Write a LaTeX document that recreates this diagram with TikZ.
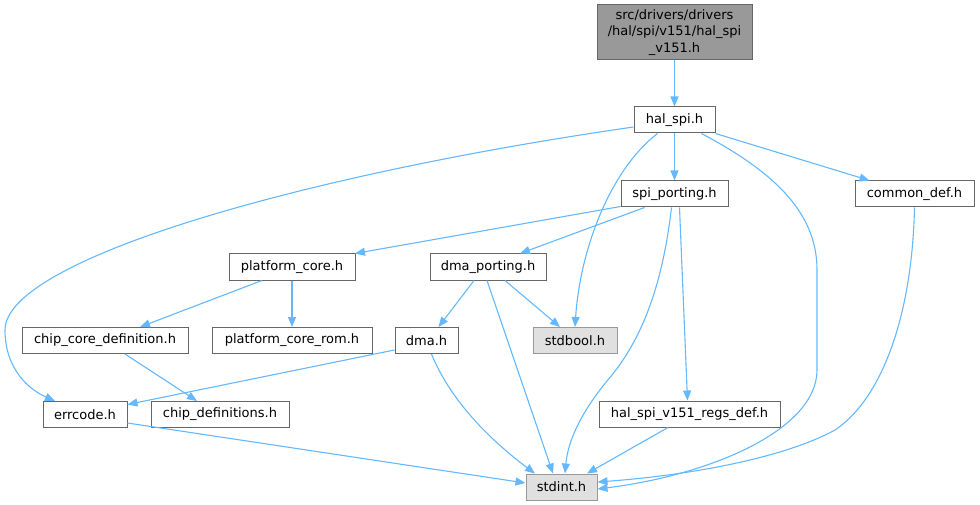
\documentclass[tikz,border=0pt]{standalone}
\usepackage{fontspec}
\setmainfont{DejaVu Sans}
\usetikzlibrary{arrows.meta}
\definecolor{edgec}{HTML}{63B8FF}
\definecolor{bord}{HTML}{666666}
\definecolor{bordl}{HTML}{999999}
\definecolor{topfill}{HTML}{999999}
\definecolor{sysfill}{HTML}{E0E0E0}
\begin{document}
\begin{tikzpicture}[x=1pt,y=-1pt,
  box/.style={draw=bord, line width=1pt, fill=white, minimum height=26pt, inner sep=0pt, font=\fontsize{13}{16.5}\selectfont},
  sysbox/.style={box, draw=bordl, fill=sysfill},
  topbox/.style={box, fill=topfill, align=center, minimum height=55pt},
  edge/.style={draw=edgec, line width=1.1pt, -{Triangle[length=10pt,width=8pt]}}
]
\useasboundingbox (0,0) rectangle (980,505);
\node[topbox, minimum width=155pt] (top) at (674.5,32.5) {src/drivers/drivers\\/hal/spi/v151/hal\_spi\\\_v151.h};
\node[box, minimum width=81pt] (hal) at (674.5,120) {hal\_spi.h};
\node[box, minimum width=107pt] (spi) at (674.5,194) {spi\_porting.h};
\node[box, minimum width=119pt] (com) at (914.5,194) {common\_def.h};
\node[box, minimum width=126pt] (plat) at (292,267) {platform\_core.h};
\node[box, minimum width=116pt] (dmap) at (488,267) {dma\_porting.h};
\node[box, minimum width=166pt] (ccd) at (105,340.5) {chip\_core\_definition.h};
\node[box, minimum width=160pt] (rom) at (292,340.5) {platform\_core\_rom.h};
\node[box, minimum width=63pt] (dma) at (426.5,340.5) {dma.h};
\node[sysbox, minimum width=84pt] (bool) at (575,340.5) {stdbool.h};
\node[box, minimum width=84pt] (err) at (85,414.5) {errcode.h};
\node[box, minimum width=138pt] (cdef) at (220,414.5) {chip\_definitions.h};
\node[box, minimum width=181pt] (regs) at (689.5,414) {hal\_spi\_v151\_regs\_def.h};
\node[sysbox, minimum width=71pt] (int) at (561.5,487) {stdint.h};

% edges
\draw[edge] (top.south) -- (hal.north);
\draw[edge] ([yshift=-7pt]hal.west) .. controls (300,175) and (5,260) .. (5,330) .. controls (5,370) and (30,390) .. ([xshift=-30pt]err.north);
\draw[edge] ([xshift=-17pt]hal.south) .. controls (610,170) and (580,250) .. (bool.north);
\draw[edge] (hal.south) -- (spi.north);
\draw[edge] ([xshift=27pt]hal.south) .. controls (770,170) and (817,210) .. (817,270) -- (817,370) .. controls (817,430) and (710,475) .. ([yshift=-2pt]int.east);
\draw[edge] (hal.south east) -- ([xshift=-45pt]com.north);
\draw[edge] (com.south) .. controls (912,320) and (880,400) .. (835,430) .. controls (780,460) and (680,476) .. ([yshift=5pt]int.east);
\draw[edge] ([yshift=1pt]spi.south west) -- ([xshift=63pt]plat.north);
\draw[edge] ([xshift=-30pt]spi.south) -- ([xshift=32pt]dmap.north);
\draw[edge] ([xshift=-3pt]spi.south) .. controls (662,290) and (640,340) .. (612,375) .. controls (582,410) and (568,440) .. ([xshift=3.5pt]int.north);
\draw[edge] ([xshift=5pt]spi.south) -- ([xshift=-2pt]regs.north);
\draw[edge] ([xshift=-30pt]plat.south) -- ([xshift=35pt]ccd.north);
\draw[edge] (plat.south) -- (rom.north);
\draw[edge] ([xshift=20pt]ccd.south) -- ([xshift=-23pt]cdef.north);
\draw[edge] ([xshift=-14pt]dmap.south) -- ([xshift=12pt]dma.north);
\draw[edge] ([xshift=17pt]dmap.south) -- ([xshift=-15pt]bool.north);
\draw[edge] ([xshift=-1pt]dmap.south) -- ([xshift=-8.5pt]int.north);
\draw[edge] ([yshift=-9.5pt]dma.west) -- ([yshift=10pt]err.east);
\draw[edge] ([xshift=5pt]dma.south) .. controls (450,400) and (490,440) .. ([xshift=-26.5pt]int.north);
\draw[edge] ([yshift=-8.5pt]err.east) -- ([yshift=4pt]int.west);
\draw[edge] ([xshift=-21.5pt]regs.south) -- ([xshift=25.5pt]int.north);
\end{tikzpicture}
\end{document}
